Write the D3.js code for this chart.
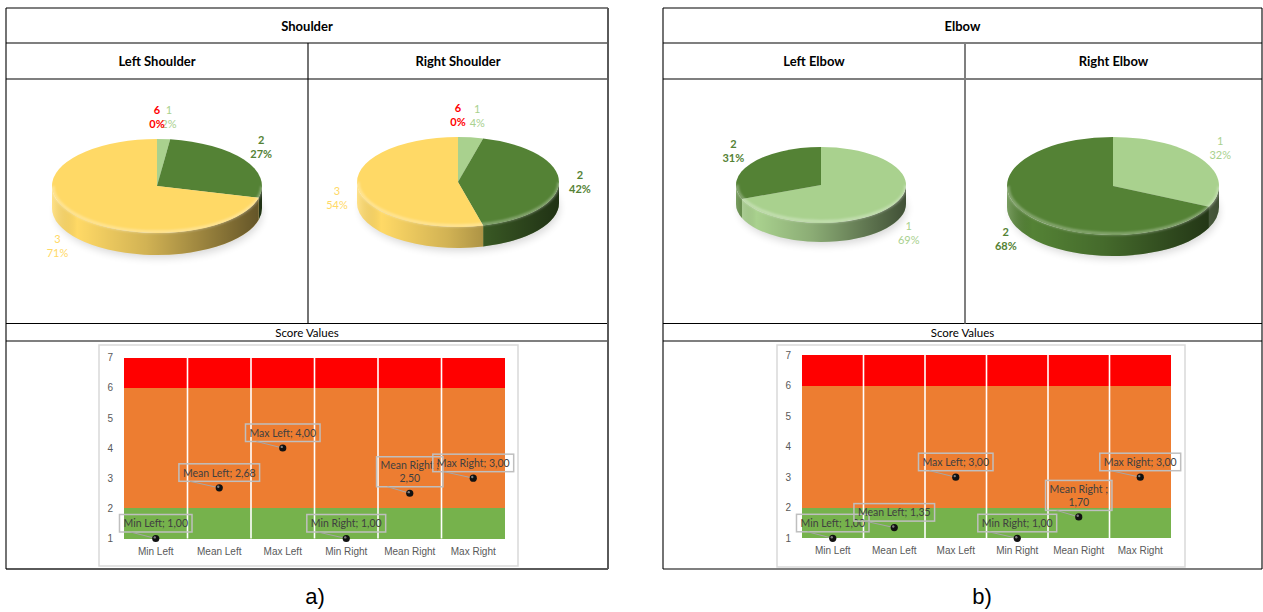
<!DOCTYPE html>
<html>
<head>
<meta charset="utf-8">
<script src="https://cdn.jsdelivr.net/npm/d3@7"></script>
<style>
  html, body { margin: 0; padding: 0; background: #fff; }
  svg { display: block; font-family: Lato, "Open Sans", "Liberation Sans", sans-serif; }
</style>
</head>
<body>
<svg id="fig" width="1263" height="612"></svg>
<script>
// ---------- data ----------
// Share of time spent in each RULA score (percent)
const shoulderLeftCats  = ["1", "2", "3", "6"];
const shoulderLeftPct   = [2, 27, 71, 0];
const shoulderRightCats = ["1", "2", "3", "6"];
const shoulderRightPct  = [4, 42, 54, 0];
const elbowLeftCats     = ["1", "2"];
const elbowLeftPct      = [69, 31];
const elbowRightCats    = ["1", "2"];
const elbowRightPct     = [32, 68];

// Score summary statistics
const scoreCategories = ["Min Left", "Mean Left", "Max Left", "Min Right", "Mean Right", "Max Right"];
const shoulderScores  = [1.00, 2.68, 4.00, 1.00, 2.50, 3.00];
const elbowScores     = [1.00, 1.35, 3.00, 1.00, 1.70, 3.00];

// Risk bands behind the score points
const zoneLower  = [1, 2, 6];
const zoneUpper  = [2, 6, 7];
const scoreTicks = [1, 2, 3, 4, 5, 6, 7];

// ---------- styles ----------
const sliceColor  = { "1": "#a9d18e", "2": "#548235", "3": "#ffd966", "6": "#ff0000" };
const sliceWeight = { "1": 400, "2": 700, "3": 400, "6": 700 };
const zoneColor   = ["#76b24c", "#ed7d31", "#ff0000"];

const svg = d3.select("#fig");
const defs = svg.append("defs");

defs.append("filter").attr("id", "soft").attr("x", "-20%").attr("y", "-50%").attr("width", "140%").attr("height", "200%")
  .append("feGaussianBlur").attr("stdDeviation", 4);
defs.append("filter").attr("id", "rim").attr("x", "-10%").attr("y", "-50%").attr("width", "120%").attr("height", "200%")
  .append("feGaussianBlur").attr("stdDeviation", 1.2);

// ---------- table frame ----------
const rowY = [8, 43, 79, 323.5, 341, 569];
const panels = [
  { title: "Shoulder", x0: 6,   x1: 608,  mid: 308, sub: ["Left Shoulder", "Right Shoulder"], caption: "a)" },
  { title: "Elbow",    x0: 663, x1: 1262, mid: 965, sub: ["Left Elbow", "Right Elbow"],       caption: "b)" }
];

panels.forEach((p, pi) => {
  const g = svg.append("g");
  rowY.forEach((y, i) => {
    const heavy = pi === 0 && i === rowY.length - 1;
    g.append("line").attr("x1", p.x0).attr("x2", p.x1).attr("y1", y).attr("y2", y)
      .attr("stroke", heavy ? "#5a5a5a" : "#000").attr("stroke-width", heavy ? 2 : 1.1);
  });
  g.append("line").attr("x1", p.x0).attr("x2", p.x0).attr("y1", rowY[0]).attr("y2", rowY[5])
    .attr("stroke", "#000").attr("stroke-width", 1.1);
  g.append("line").attr("x1", p.x1).attr("x2", p.x1).attr("y1", rowY[0]).attr("y2", rowY[5])
    .attr("stroke", pi === 0 ? "#5a5a5a" : "#000").attr("stroke-width", pi === 0 ? 2 : 1.1);
  g.append("line").attr("x1", p.mid).attr("x2", p.mid).attr("y1", rowY[1]).attr("y2", rowY[3])
    .attr("stroke", pi === 0 ? "#000" : "#7f7f7f").attr("stroke-width", pi === 0 ? 1.1 : 2);

  const head = (x, y, s) => g.append("text").attr("x", x).attr("y", y)
    .attr("text-anchor", "middle").attr("dominant-baseline", "central")
    .attr("font-size", 13).attr("font-weight", 700).attr("fill", "#000").text(s);
  head((p.x0 + p.x1) / 2, (rowY[0] + rowY[1]) / 2, p.title);
  head((p.x0 + p.mid) / 2, (rowY[1] + rowY[2]) / 2, p.sub[0]);
  head((p.mid + p.x1) / 2, (rowY[1] + rowY[2]) / 2, p.sub[1]);

  g.append("text").attr("x", (p.x0 + p.x1) / 2).attr("y", (rowY[3] + rowY[4]) / 2 + 0.5)
    .attr("text-anchor", "middle").attr("dominant-baseline", "central")
    .attr("font-size", 11.5).attr("fill", "#000").text("Score Values");

  svg.append("text").attr("x", pi === 0 ? 315 : 982).attr("y", 604)
    .attr("text-anchor", "middle")
    .attr("font-family", "'Liberation Sans Narrow', 'Liberation Sans', Arial, sans-serif")
    .attr("font-size", 22).attr("fill", "#000").text(p.caption);
});

// ---------- 3D pies ----------
const pieLayout = [
  { cx: 157,  cy: 186, rx: 105, ry: 47, depth: 22 },
  { cx: 458,  cy: 182, rx: 101, ry: 45, depth: 21 },
  { cx: 821,  cy: 185, rx: 85,  ry: 38, depth: 19 },
  { cx: 1113, cy: 186, rx: 106, ry: 49, depth: 21 }
];

function drawPie(cats, pct, L, id) {
  const g = svg.append("g");
  const pie = d3.pie().sort(null).value(d => d.v);
  const arcs = pie(cats.map((c, i) => ({ c, v: pct[i] })));
  const P = (a, dy = 0) => [L.cx + L.rx * Math.sin(a), L.cy - L.ry * Math.cos(a) + dy];

  // side shading, left bright to right dark
  const grad = defs.append("linearGradient").attr("id", "side" + id)
    .attr("gradientUnits", "userSpaceOnUse")
    .attr("x1", L.cx - L.rx).attr("x2", L.cx + L.rx).attr("y1", 0).attr("y2", 0);
  [[0, "#fff", 0.22], [0.12, "#000", 0.0], [0.45, "#000", 0.18], [0.75, "#000", 0.42], [1, "#000", 0.62]]
    .forEach(s => grad.append("stop").attr("offset", s[0]).attr("stop-color", s[1]).attr("stop-opacity", s[2]));

  // soft floor shadow
  g.append("ellipse").attr("cx", L.cx + 2).attr("cy", L.cy + L.depth + 5)
    .attr("rx", L.rx * 0.98).attr("ry", L.ry * 0.95)
    .attr("fill", "#000").attr("opacity", 0.16).attr("filter", "url(#soft)");

  // sides (front half only)
  arcs.forEach(d => {
    const s = Math.max(d.startAngle, Math.PI / 2), e = Math.min(d.endAngle, 3 * Math.PI / 2);
    if (e <= s) return;
    const [x0, y0] = P(s), [x1, y1] = P(e);
    const path = `M${x0},${y0}A${L.rx},${L.ry} 0 0 1 ${x1},${y1}` +
                 `L${x1},${y1 + L.depth}A${L.rx},${L.ry} 0 0 0 ${x0},${y0 + L.depth}Z`;
    g.append("path").attr("d", path).attr("fill", sliceColor[d.data.c]);
    g.append("path").attr("d", path).attr("fill", `url(#side${id})`);
  });

  // top faces
  arcs.forEach(d => {
    if (d.endAngle - d.startAngle <= 0) return;
    const [x0, y0] = P(d.startAngle), [x1, y1] = P(d.endAngle);
    const large = d.endAngle - d.startAngle > Math.PI ? 1 : 0;
    g.append("path")
      .attr("d", `M${L.cx},${L.cy}L${x0},${y0}A${L.rx},${L.ry} 0 ${large} 1 ${x1},${y1}Z`)
      .attr("fill", sliceColor[d.data.c]);
  });

  // bevel highlight along the front rim
  {
    const [x0, y0] = P(Math.PI / 2 + 0.05), [x1, y1] = P(3 * Math.PI / 2 - 0.02);
    g.append("path").attr("d", `M${x0},${y0 - 2}A${L.rx - 2},${L.ry - 2} 0 0 1 ${x1 + 1},${y1 - 1}`)
      .attr("fill", "none").attr("stroke", "#fff").attr("stroke-opacity", 0.3)
      .attr("stroke-width", 3).attr("filter", "url(#rim)");
  }

  // outside-end labels: category over percentage
  arcs.forEach(d => {
    const t = (d.startAngle + d.endAngle) / 2;
    const sn = Math.sin(t), cs = Math.cos(t);
    const ax = L.cx + (L.rx + 8) * sn;
    const ay = L.cy - (L.ry + 8) * cs + (cs < 0 ? L.depth * Math.sqrt(-cs) : 0);
    const lx = ax + 13 * sn + (d.value > 0 && d.value < 5 ? 4 : 0), ly = ay - 14 * cs;
    const lab = g.append("text").attr("text-anchor", "middle")
      .attr("font-size", 11).attr("font-weight", sliceWeight[d.data.c])
      .attr("fill", sliceColor[d.data.c]);
    lab.append("tspan").attr("x", lx).attr("y", ly - 3).text(d.data.c);
    lab.append("tspan").attr("x", lx).attr("y", ly + 11).text(d3.format(".0f")(d.data.v) + "%");
  });
}

drawPie(shoulderLeftCats,  shoulderLeftPct,  pieLayout[0], 0);
drawPie(shoulderRightCats, shoulderRightPct, pieLayout[1], 1);
drawPie(elbowLeftCats,     elbowLeftPct,     pieLayout[2], 2);
drawPie(elbowRightCats,    elbowRightPct,    pieLayout[3], 3);

// ---------- score charts ----------
const scoreLayout = [
  { box: [99, 345, 518, 566],  plot: { left: 124, right: 505,  top: 357.5, bottom: 538.5 } },
  { box: [777, 345, 1185, 567], plot: { left: 802, right: 1171, top: 355,   bottom: 538.3 } }
];
const fmtComma = v => d3.format(".2f")(v).replace(".", ",");

function drawScores(values, L) {
  const g = svg.append("g");
  g.append("rect").attr("x", L.box[0]).attr("y", L.box[1])
    .attr("width", L.box[2] - L.box[0]).attr("height", L.box[3] - L.box[1])
    .attr("fill", "#fff").attr("stroke", "#d9d9d9").attr("stroke-width", 1.5);

  const P = L.plot;
  const x = d3.scaleBand().domain(scoreCategories).range([P.left, P.right]).padding(0);
  const y = d3.scaleLinear().domain([1, 7]).range([P.bottom, P.top]);

  // stacked risk bands per category
  const cells = d3.cross(scoreCategories, d3.range(zoneLower.length));
  g.selectAll("rect.zone").data(cells).join("rect").attr("class", "zone")
    .attr("x", d => x(d[0])).attr("width", x.bandwidth())
    .attr("y", d => y(zoneUpper[d[1]])).attr("height", d => y(zoneLower[d[1]]) - y(zoneUpper[d[1]]))
    .attr("fill", d => zoneColor[d[1]]).attr("shape-rendering", "crispEdges");

  // white separators between categories
  g.selectAll("line.sep").data(scoreCategories.slice(1)).join("line").attr("class", "sep")
    .attr("x1", d => x(d)).attr("x2", d => x(d)).attr("y1", y(7)).attr("y2", y(1))
    .attr("stroke", "#fff").attr("stroke-width", 1.6);

  // axes
  const ya = g.append("g").attr("transform", `translate(${P.left},0)`)
    .call(d3.axisLeft(y).tickValues(scoreTicks).tickSize(0).tickPadding(11).tickFormat(d3.format("d")));
  ya.select(".domain").remove();
  ya.selectAll("text").attr("font-size", 10).attr("fill", "#595959").attr("font-family", null);

  const xa = g.append("g").attr("transform", `translate(0,${P.bottom})`)
    .call(d3.axisBottom(x).tickSize(0).tickPadding(9));
  xa.select(".domain").remove();
  xa.selectAll("text").attr("font-size", 10).attr("fill", "#595959").attr("font-family", null);

  // points with callout labels
  scoreCategories.forEach((c, i) => {
    const px = x(c) + x.bandwidth() / 2, py = y(values[i]);
    const full = `${c}; ${fmtComma(values[i])}`;
    const lines = full.length > 15 ? [c + " ;", fmtComma(values[i])] : [full];
    const lg = g.append("g");
    const txt = lg.append("text").attr("text-anchor", "middle").attr("font-size", 10.5).attr("fill", "#404040");
    const lineH = 13;
    const boxH = lines.length === 1 ? 17.5 : 30;
    const boxBottom = py - 6.5, boxTop = boxBottom - boxH;
    lines.forEach((s, k) => {
      txt.append("tspan").attr("x", px)
        .attr("y", boxTop + boxH / 2 + (k - (lines.length - 1) / 2) * lineH)
        .attr("dominant-baseline", "central").text(s);
    });
    const w = d3.max(txt.selectAll("tspan").nodes(), n => n.getComputedTextLength()) + 8;
    const bx = px - w / 2;
    lg.insert("rect", "text").attr("x", bx).attr("y", boxTop).attr("width", w).attr("height", boxH)
      .attr("fill", "none").attr("stroke", "#bfbfbf").attr("stroke-width", 1.5);
    lg.insert("line", "text").attr("x1", bx + 11).attr("y1", boxBottom).attr("x2", px).attr("y2", py)
      .attr("stroke", "#a6a6a6").attr("stroke-width", 1);
    g.append("circle").attr("cx", px).attr("cy", py).attr("r", 3.6).attr("fill", "#111");
    g.append("circle").attr("cx", px - 1).attr("cy", py - 1.1).attr("r", 1.2).attr("fill", "#9a9a9a").attr("opacity", 0.8);
  });
}

drawScores(shoulderScores, scoreLayout[0]);
drawScores(elbowScores,    scoreLayout[1]);
</script>
</body>
</html>
